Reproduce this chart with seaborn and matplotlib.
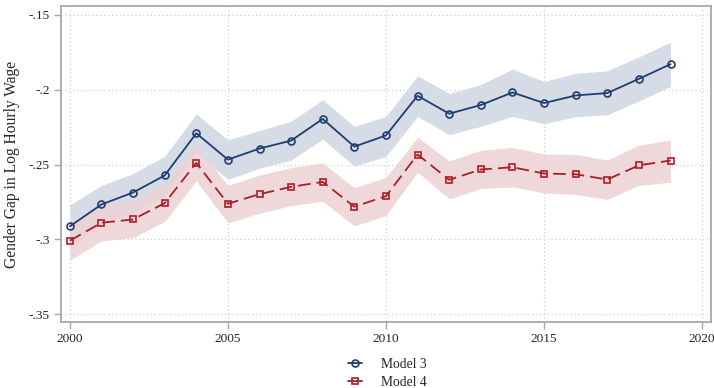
import numpy as np
import pandas as pd
import matplotlib
matplotlib.use("Agg")
import matplotlib.pyplot as plt
from matplotlib.lines import Line2D
import seaborn as sns

years = list(range(2000, 2020))

model3 = [-.2913, -.2767, -.2687, -.2573, -.2291, -.2467, -.2393, -.2340, -.2195, -.2380,
          -.2305, -.2040, -.2160, -.2102, -.2018, -.2089, -.2038, -.2022, -.1927, -.1829]
model3_lo = [-.3050, -.2900, -.2820, -.2710, -.2420, -.2600, -.2525, -.2470, -.2330, -.2511,
             -.2445, -.2178, -.2300, -.2245, -.2178, -.2227, -.2180, -.2167, -.2075, -.1978]
model3_hi = [-.2770, -.2640, -.2560, -.2445, -.2162, -.2335, -.2273, -.2210, -.2067, -.2245,
             -.2178, -.1907, -.2025, -.1965, -.1862, -.1944, -.1890, -.1873, -.1780, -.1682]

model4 = [-.3009, -.2889, -.2867, -.2758, -.2489, -.2762, -.2698, -.2649, -.2616, -.2782,
          -.2711, -.2433, -.2602, -.2533, -.2518, -.2560, -.2565, -.2600, -.2505, -.2473]
model4_lo = [-.3140, -.3010, -.2990, -.2880, -.2610, -.2890, -.2825, -.2775, -.2745, -.2910,
             -.2840, -.2550, -.2730, -.2660, -.2650, -.2690, -.2700, -.2733, -.2640, -.2618]
model4_hi = [-.2880, -.2770, -.2745, -.2635, -.2371, -.2640, -.2570, -.2520, -.2489, -.2655,
             -.2585, -.2318, -.2475, -.2405, -.2385, -.2430, -.2432, -.2470, -.2370, -.2336]

series_names = ["Model 3", "Model 4"]
ytick_vals = [-.35, -.3, -.25, -.2, -.15]
ytick_labels = ["-.35", "-.3", "-.25", "-.2", "-.15"]
xtick_vals = [2000, 2005, 2010, 2015, 2020]

navy = "#1f3d6e"
red = "#ab1e27"
navy_band = "#d6dce5"
red_band = "#edd2d4"
colors = {series_names[0]: navy, series_names[1]: red}
marker_map = {series_names[0]: "o", series_names[1]: "s"}
dash_map = {series_names[0]: "", series_names[1]: (7, 3.3)}

df = pd.DataFrame({
    "year": years * 2,
    "gap": model3 + model4,
    "model": [series_names[0]] * len(years) + [series_names[1]] * len(years),
})

sns.set_style("white")
plt.rcParams["font.family"] = ["Liberation Serif", "DejaVu Serif"]

fig = plt.figure(figsize=(7.14, 3.88), dpi=100)
ax = fig.add_axes([0.0854, 0.170, 0.9104, 0.8145])

# confidence bands
ax.fill_between(years, model3_lo, model3_hi, color=navy_band, lw=0, zorder=1)
ax.fill_between(years, model4_lo, model4_hi, color=red_band, lw=0, alpha=0.85, zorder=1.1)

sns.lineplot(data=df, x="year", y="gap", hue="model", style="model",
             palette=colors, markers=marker_map, dashes=dash_map,
             markersize=5, linewidth=1.3, legend=False, ax=ax, zorder=3)

# hollow markers outlined in the series colour
for line, name in zip(ax.lines, series_names):
    line.set_markerfacecolor("none")
    line.set_markeredgecolor(colors[name])
    line.set_markeredgewidth(1.2)

ax.set_xlim(1999.72, 2020.28)
ax.set_ylim(-.3553, -.144)
ax.set_yticks(ytick_vals)
ax.set_yticklabels(ytick_labels)
ax.set_xticks(xtick_vals)
ax.set_xlabel("")
ax.set_ylabel("Gender Gap in Log Hourly Wage", fontsize=11.2, labelpad=6)

ax.grid(True, linestyle=(0, (1, 2.5)), color="#c8c8c8", linewidth=0.8)
ax.set_axisbelow(True)
for s in ax.spines.values():
    s.set_color("#a8a8a8")
    s.set_linewidth(1.3)
ax.tick_params(axis="both", direction="out", length=5, width=1, color="#a8a8a8",
               labelsize=9.6, pad=3, left=True, bottom=True)

handles = [Line2D([], [], color=colors[n], marker=marker_map[n], markersize=5,
                  markerfacecolor="none", markeredgecolor=colors[n], markeredgewidth=1.2,
                  linewidth=1.3, linestyle="-") for n in series_names]
fig.legend(handles, series_names, loc="upper center", bbox_to_anchor=(0.543, 0.103),
           frameon=False, ncol=1, fontsize=9.8, handlelength=1.0,
           handletextpad=1.4, labelspacing=0.38, borderpad=0.2)

fig.savefig("out.png", dpi=100)
